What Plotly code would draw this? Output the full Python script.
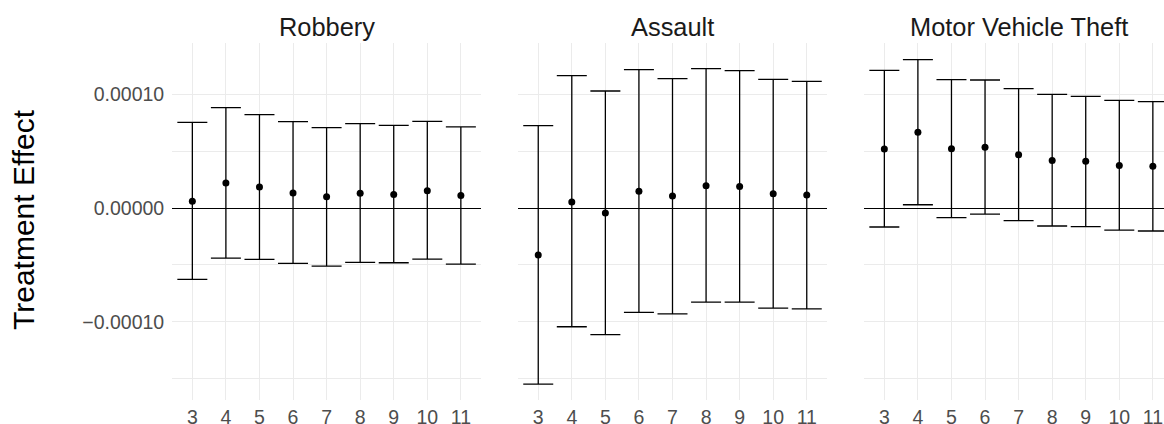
import plotly.graph_objects as go

# ---------------- data ----------------
categories = [3, 4, 5, 6, 7, 8, 9, 10, 11]
panel_titles = ["Robbery", "Assault", "Motor Vehicle Theft"]

robbery_est = [5.9e-6, 2.20e-5, 1.85e-5, 1.32e-5, 1.00e-5, 1.29e-5, 1.20e-5, 1.52e-5, 1.11e-5]
robbery_lo = [-6.28e-5, -4.40e-5, -4.52e-5, -4.87e-5, -5.10e-5, -4.78e-5, -4.81e-5, -4.49e-5, -4.93e-5]
robbery_hi = [7.54e-5, 8.83e-5, 8.21e-5, 7.60e-5, 7.07e-5, 7.42e-5, 7.27e-5, 7.62e-5, 7.13e-5]

assault_est = [-4.13e-5, 5.3e-6, -4.4e-6, 1.47e-5, 1.06e-5, 1.96e-5, 1.90e-5, 1.26e-5, 1.14e-5]
assault_lo = [-1.548e-4, -1.044e-4, -1.114e-4, -9.18e-5, -9.30e-5, -8.27e-5, -8.27e-5, -8.80e-5, -8.86e-5]
assault_hi = [7.24e-5, 1.164e-4, 1.029e-4, 1.217e-4, 1.138e-4, 1.226e-4, 1.208e-4, 1.132e-4, 1.114e-4]

mvt_est = [5.19e-5, 6.66e-5, 5.22e-5, 5.34e-5, 4.69e-5, 4.19e-5, 4.11e-5, 3.75e-5, 3.67e-5]
mvt_lo = [-1.67e-5, 2.9e-6, -8.5e-6, -5.3e-6, -1.11e-5, -1.58e-5, -1.64e-5, -1.94e-5, -2.02e-5]
mvt_hi = [1.211e-4, 1.305e-4, 1.129e-4, 1.126e-4, 1.050e-4, 1.000e-4, 9.82e-5, 9.47e-5, 9.35e-5]

y_tick_vals = [-1e-4, 0.0, 1e-4]
y_tick_labels = ["\u22120.00010", "0.00000", "0.00010"]
y_minor_vals = [-1.5e-4, -5e-5, 5e-5]
y_axis_title = "Treatment Effect"

# ---------------- layout constants ----------------
W, H = 1164, 424
panels_px = [(172.2, 481.0), (518.1, 826.9), (864.2, 1164.0)]
full_panel_w = 308.8
x_lo, x_hi = 2.4, 11.6
plot_top_px, plot_bot_px = 43.4, 400.3

series = [
    (robbery_est, robbery_lo, robbery_hi),
    (assault_est, assault_lo, assault_hi),
    (mvt_est, mvt_lo, mvt_hi),
]

all_lo = min(min(s[1]) for s in series)
all_hi = max(max(s[2]) for s in series)
span = all_hi - all_lo
y_range = [all_lo - 0.05 * span, all_hi + 0.05 * span]

FONT = "Liberation Sans, Arial, Helvetica, sans-serif"
GRID = "#ebebeb"

fig = go.Figure()

for i, (est, lo, hi) in enumerate(series):
    ax = "" if i == 0 else str(i + 1)
    fig.add_trace(go.Scatter(
        x=categories, y=est,
        mode="markers",
        marker=dict(color="black", size=7),
        error_y=dict(
            type="data", symmetric=False,
            array=[h - e for h, e in zip(hi, est)],
            arrayminus=[e - l for e, l in zip(est, lo)],
            color="black", thickness=1.3, width=15,
        ),
        xaxis="x" + ax, yaxis="y" + ax,
        showlegend=False,
        cliponaxis=True,
    ))

layout = dict(
    width=W, height=H, autosize=False,
    margin=dict(l=0, r=0, t=0, b=0, pad=0),
    paper_bgcolor="white", plot_bgcolor="white",
    font=dict(family=FONT),
    showlegend=False,
)

y_dom = [1 - plot_bot_px / H, 1 - plot_top_px / H]

annotations = []
for i, (l, r) in enumerate(panels_px):
    suffix = "" if i == 0 else str(i + 1)
    width_px = r - l
    xr = [x_lo, x_lo + (x_hi - x_lo) * width_px / full_panel_w]
    layout["xaxis" + suffix] = dict(
        domain=[l / W, r / W], range=xr,
        tickvals=categories, ticktext=[str(c) for c in categories],
        showgrid=True, gridcolor=GRID, gridwidth=1,
        zeroline=False, showline=False, ticks="",
        tickfont=dict(size=19.5, color="#4d4d4d", family=FONT),
        ticklabelstandoff=3,
        automargin=False,
        anchor="y" + suffix, fixedrange=True,
    )
    layout["yaxis" + suffix] = dict(
        domain=y_dom, range=y_range,
        tickvals=y_tick_vals, ticktext=y_tick_labels,
        showticklabels=(i == 0),
        showgrid=True, gridcolor=GRID, gridwidth=1,
        minor=dict(tickvals=y_minor_vals, showgrid=True, gridcolor=GRID, gridwidth=0.8),
        zeroline=True, zerolinecolor="black", zerolinewidth=1.3,
        showline=False, ticks="",
        tickfont=dict(size=19.5, color="#4d4d4d", family=FONT),
        ticklabelstandoff=7,
        automargin=False,
        anchor="x" + suffix, fixedrange=True,
    )
    annotations.append(dict(
        text=panel_titles[i], xref="paper", yref="paper",
        x=(l + full_panel_w / 2) / W, y=1 - 27 / H,
        xanchor="center", yanchor="middle", showarrow=False,
        font=dict(size=25.4, color="#1a1a1a", family=FONT),
    ))

annotations.append(dict(
    text=y_axis_title, xref="paper", yref="paper",
    x=23 / W, y=1 - 220 / H, xanchor="center", yanchor="middle",
    textangle=-90, showarrow=False,
    font=dict(size=30, color="black", family=FONT),
))
layout["annotations"] = annotations

fig.update_layout(**layout)
fig.write_html(
    "out.html",
    config={"displayModeBar": False},
    post_script="document.body.style.margin='0';document.body.style.overflow='hidden';",
)
